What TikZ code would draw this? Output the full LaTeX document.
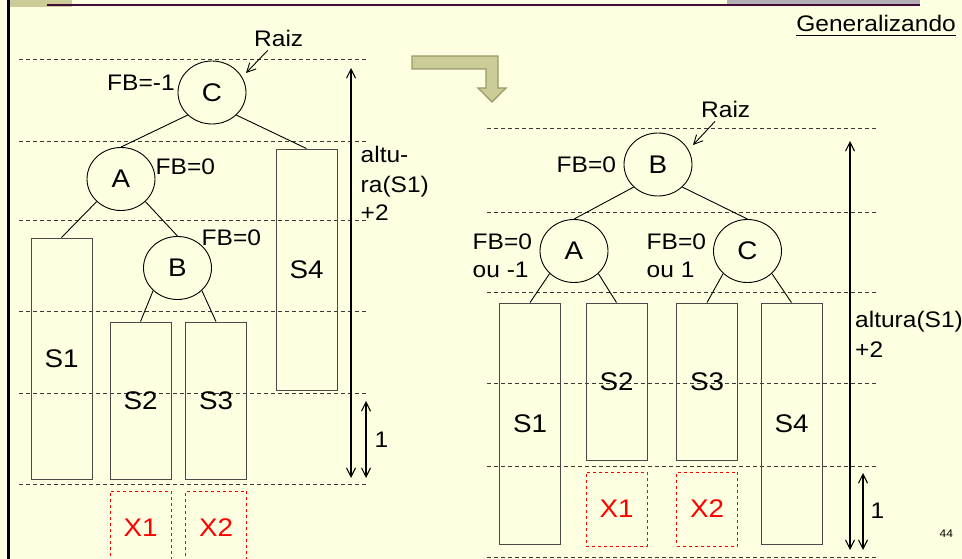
\documentclass[tikz,border=0pt]{standalone}
\usepackage{fontspec}
\setmainfont{Liberation Sans}[FakeStretch=1.09]
\usepackage{tikz}
\usetikzlibrary{arrows.meta,shapes.geometric}
\definecolor{slidebg}{HTML}{FFFFE1}
\definecolor{khaki}{HTML}{CCCC99}
\definecolor{khakiedge}{HTML}{9A9A68}
\definecolor{titlebar}{HTML}{3F0A36}
\definecolor{titlegray}{HTML}{B2AEB4}
\definecolor{boxgray}{HTML}{4A4A4A}
\definecolor{levelgray}{HTML}{3A3A3A}

\begin{document}
\begin{tikzpicture}[x=1pt,y=-1pt,>={Straight Barb[length=9pt,width=9pt]},
  every node/.style={font=\fontsize{22.5}{27}\selectfont},
  avl/.style={ellipse,draw,line width=0.9pt,minimum width=68pt,minimum height=63pt,inner sep=0pt,
    font=\fontsize{25.5}{30}\selectfont},
  subarv/.style={draw=boxgray,line width=0.9pt,minimum width=61pt,inner sep=0pt,
    font=\fontsize{25.5}{30}\selectfont},
  novo/.style={draw=red,dashed,line width=0.8pt,text=red,minimum width=61pt,minimum height=74pt,inner sep=0pt,
    font=\fontsize{25.5}{30}\selectfont},
  nivel/.style={draw=levelgray,line width=0.9pt,dash pattern=on 4pt off 3pt},
  aresta/.style={line width=0.9pt},
  cota/.style={<->,line width=1.1pt},
  rotulo/.style={anchor=base west,inner sep=0pt}]
  \useasboundingbox (0,0) rectangle (962,559);
  \fill[slidebg] (0,0) rectangle (962,559);
  % slide frame
  \fill[khaki] (10,0) rectangle (72,7);
  \fill[titlegray] (727,0) rectangle (920,5);
  \fill[titlebar] (47,4) rectangle (920,6.5);
  \fill[black] (7,0) rectangle (9.7,559);
  \node[rotulo,anchor=base east] (titulo) at (956,31.5) {Generalizando};
  \draw[line width=1.4pt] ([yshift=-4pt]titulo.base west) -- ([yshift=-4pt]titulo.base east);
  \node[rotulo,font=\fontsize{11}{13}\selectfont] (pagina) at (939.5,537) {44};
  % bent arrow
  \filldraw[fill=khaki,draw=khakiedge,line width=1.2pt]
    (412,56) -- (498,56) -- (498,88) -- (506,88) -- (492,102) -- (478,88)
    -- (486,88) -- (486,69) -- (412,69) -- cycle;

  % levels
  \foreach \y in {59,141,220,311,393,484}
    \draw[nivel] (19,\y) -- (366,\y);
  \foreach \y in {128,212,292,383,466,557}
    \draw[nivel] (487,\y) -- (877,\y);

  % before
  \node[avl] (cL) at (212,92.5) {C};
  \node[avl] (aL) at (121,179) {A};
  \node[avl] (bL) at (177.5,268) {B};
  \node[subarv,minimum height=241pt] (s1L) at (61.5,358.5) {S1};
  \node[subarv,minimum height=157pt] (s2L) at (140.5,400.5) {S2};
  \node[subarv,minimum height=157pt] (s3L) at (216,400.5) {S3};
  \node[subarv,minimum height=241pt] (s4L) at (306.5,269.5) {S4};
  \node[novo] (x1L) at (140.5,528) {X1};
  \node[novo] (x2L) at (216,528) {X2};
  \draw[aresta] (cL.south west) -- (aL.north);
  \draw[aresta] (cL.south east) -- (s4L.north);
  \draw[aresta] (aL.south west) -- (s1L.north);
  \draw[aresta] (aL.south east) -- (bL.north);
  \draw[aresta] (bL.south west) -- (s2L.north);
  \draw[aresta] (bL.south east) -- (s3L.north);
  \node[rotulo] (fbcL) at (107,91) {FB=-1};
  \node[rotulo] (fbaL) at (155.5,175) {FB=0};
  \node[rotulo] (fbbL) at (201.5,245) {FB=0};
  \node[rotulo,inner sep=3pt] (raizL) at (251,47) {Raiz};
  \coordinate (raizTipL) at (246,73);
  \draw[->,aresta] (raizL) -- (raizTipL);
  \coordinate (altTopL) at (351,68);
  \coordinate (altBotL) at (351,478);
  \coordinate (umTopL) at (366,401);
  \coordinate (umBotL) at (366,478);
  \draw[cota] (altTopL) -- (altBotL);
  \draw[cota] (umTopL) -- (umBotL);
  \node[rotulo] (altL1) at (360.5,163) {altu-};
  \node[rotulo] (altL2) at (360.5,192.5) {ra(S1)};
  \node[rotulo] (altL3) at (360.5,221) {+2};
  \node[rotulo] (umL) at (374.5,447) {1};

  % after
  \node[avl] (bR) at (658,164.5) {B};
  \node[avl] (aR) at (574,251) {A};
  \node[avl] (cR) at (747.5,251) {C};
  \node[subarv,minimum height=241pt] (s1R) at (530,423.5) {S1};
  \node[subarv,minimum height=157pt] (s2R) at (616.5,381.5) {S2};
  \node[subarv,minimum height=157pt] (s3R) at (707,381.5) {S3};
  \node[subarv,minimum height=241pt] (s4R) at (791.5,423.5) {S4};
  \node[novo] (x1R) at (616.5,509) {X1};
  \node[novo] (x2R) at (707,509) {X2};
  \draw[aresta] (bR.south west) -- (aR.north);
  \draw[aresta] (bR.south east) -- (cR.north);
  \draw[aresta] (aR.south west) -- (s1R.north);
  \draw[aresta] (aR.south east) -- (s2R.north);
  \draw[aresta] (cR.south west) -- (s3R.north);
  \draw[aresta] (cR.south east) -- (s4R.north);
  \node[rotulo] (fbbR) at (556.5,172.5) {FB=0};
  \node[rotulo] (fbaR1) at (472.5,249) {FB=0};
  \node[rotulo] (fbaR2) at (472.5,277) {ou -1};
  \node[rotulo] (fbcR1) at (646.5,249) {FB=0};
  \node[rotulo] (fbcR2) at (646.5,277) {ou 1};
  \node[rotulo,inner sep=3pt] (raizR) at (698,118) {Raiz};
  \coordinate (raizTipR) at (693,145);
  \draw[->,aresta] (raizR) -- (raizTipR);
  \coordinate (altTopR) at (850,141);
  \coordinate (altBotR) at (850,550);
  \coordinate (umTopR) at (863,473);
  \coordinate (umBotR) at (863,550);
  \draw[cota] (altTopR) -- (altBotR);
  \draw[cota] (umTopR) -- (umBotR);
  \node[rotulo] (altR1) at (855,327) {altura(S1)};
  \node[rotulo] (altR2) at (855,357) {+2};
  \node[rotulo] (umR) at (870.5,518) {1};
\end{tikzpicture}
\end{document}
